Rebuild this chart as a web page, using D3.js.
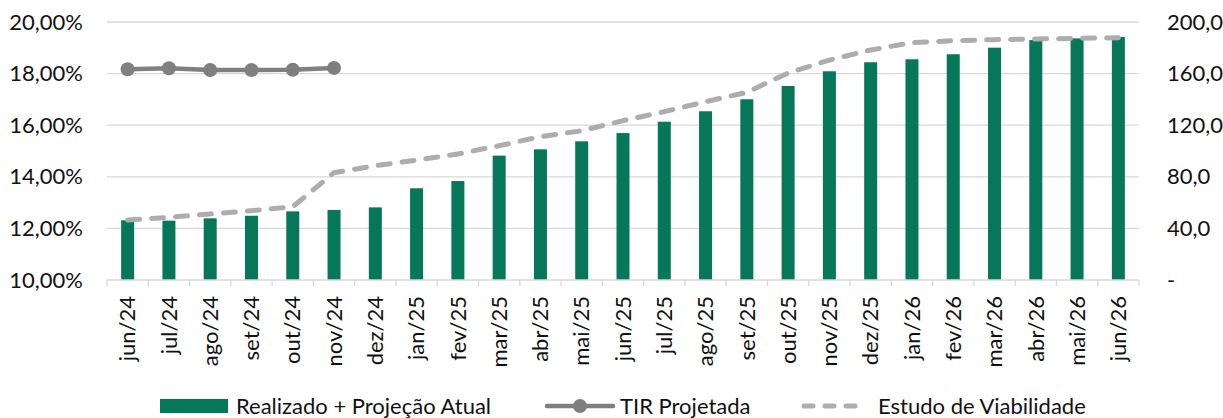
<!DOCTYPE html>
<meta charset="utf-8">
<style>
body { margin: 0; background: #fff; }
text { font-family: Lato, "Open Sans", sans-serif; fill: #111; }
</style>
<body>
<script src="https://cdn.jsdelivr.net/npm/d3@7"></script>
<script>

// categories (months)
var meses = ["jun/24","jul/24","ago/24","set/24","out/24","nov/24","dez/24",
  "jan/25","fev/25","mar/25","abr/25","mai/25","jun/25","jul/25","ago/25","set/25","out/25","nov/25","dez/25",
  "jan/26","fev/26","mar/26","abr/26","mai/26","jun/26"];

// Realizado + Projeção Atual (right axis)
var realizado = [46.3, 46.0, 47.8, 49.8, 53.2, 54.3, 56.3, 71.1, 76.7, 96.4, 101.3, 107.5, 113.9,
  122.7, 130.8, 140.1, 150.4, 161.8, 168.8, 171.1, 175.0, 180.1, 186.0, 187.3, 188.4];

// Estudo de Viabilidade (right axis)
var viabilidade = [46.5, 48.6, 51.2, 53.7, 56.8, 83.2, 88.6, 93.0, 97.7, 104.1, 111.1, 115.7, 123.5,
  130.5, 138.2, 145.5, 160.5, 170.5, 178.3, 184.0, 185.5, 186.3, 186.8, 187.3, 187.8];

// TIR Projetada (left axis, %) - only first six months
var tir = [18.17, 18.21, 18.14, 18.14, 18.15, 18.22];

var leftTicks = [10, 12, 14, 16, 18, 20];
var rightTicks = [0, 40, 80, 120, 160, 200];

var W = 1223, H = 418;
var m = {left: 107, right: 1139, top: 22, bottom: 280};
var fs = "22px";

var svg = d3.select("body").append("svg")
    .attr("width", W)
    .attr("height", H);

var x = d3.scaleBand().domain(meses).range([m.left, m.right]);
var yL = d3.scaleLinear().domain([10, 20]).range([m.bottom, m.top]);
var yR = d3.scaleLinear().domain([0, 200]).range([m.bottom, m.top]);

//gridlines
svg.append("g")
  .selectAll("line")
  .data(rightTicks.slice(1))
  .enter().append("line")
    .attr("x1", m.left).attr("x2", m.right)
    .attr("y1", d => yR(d)).attr("y2", d => yR(d))
    .attr("stroke", "#d9d9d9").attr("stroke-width", 1.3);

// left axis
var gl = svg.append("g")
    .attr("transform", "translate(" + m.left + ",0)")
    .call(d3.axisLeft(yL).tickValues(leftTicks).tickSize(0).tickPadding(24)
      .tickFormat(d => d.toFixed(2).replace(".", ",") + "%"));
gl.select(".domain").remove();
gl.selectAll("text").style("font-size", fs).style("font-family", "Lato, sans-serif").attr("fill", "#111");

// right axis
var gr = svg.append("g")
    .attr("transform", "translate(" + m.right + ",0)")
    .call(d3.axisRight(yR).tickValues(rightTicks).tickSize(0).tickPadding(28)
      .tickFormat(d => d === 0 ? "-" : d.toFixed(1).replace(".", ",")));
gr.select(".domain").remove();
gr.selectAll("text").style("font-size", fs).style("font-family", "Lato, sans-serif").attr("fill", "#111");

// bars
var bw = 13;
svg.append("g")
    .attr("fill", "#067859")
  .selectAll("rect")
  .data(realizado)
  .enter().append("rect")
    .attr("x", (d, i) => x(meses[i]) + (x.bandwidth() - bw) / 2)
    .attr("y", d => yR(d))
    .attr("width", bw)
    .attr("height", d => yR(0) - yR(d));

// bottom axis
svg.append("line")
    .attr("x1", m.left).attr("x2", m.right)
    .attr("y1", m.bottom).attr("y2", m.bottom)
    .attr("stroke", "#d9d9d9").attr("stroke-width", 1.3);

var bounds = meses.map(d => x(d)).concat([m.right]);
svg.append("g")
  .selectAll("line")
  .data(bounds)
  .enter().append("line")
    .attr("x1", d => d).attr("x2", d => d)
    .attr("y1", m.bottom).attr("y2", m.bottom + 6)
    .attr("stroke", "#d9d9d9").attr("stroke-width", 1.3);

var gx = svg.append("g")
    .attr("transform", "translate(0," + m.bottom + ")")
    .call(d3.axisBottom(x).tickSize(0).tickPadding(0));
gx.select(".domain").remove();
gx.selectAll("text")
    .style("font-size", fs).style("font-family", "Lato, sans-serif").attr("fill", "#111")
    .attr("transform", "rotate(-90)")
    .attr("text-anchor", "end")
    .attr("x", -16)
    .attr("y", 0)
    .attr("dy", "0.35em");

// dashed line
var lineR = d3.line()
    .x((d, i) => x(meses[i]) + x.bandwidth() / 2)
    .y(d => yR(d));

svg.append("path")
    .datum(viabilidade)
    .attr("d", lineR)
    .attr("fill", "none")
    .attr("stroke", "#adadad")
    .attr("stroke-width", 5)
    .attr("stroke-dasharray", "12,12")
    .attr("stroke-linecap", "round");

// TIR line
var lineL = d3.line()
    .x((d, i) => x(meses[i]) + x.bandwidth() / 2)
    .y(d => yL(d));

svg.append("path")
    .datum(tir)
    .attr("d", lineL)
    .attr("fill", "none")
    .attr("stroke", "#7f7f7f")
    .attr("stroke-width", 4.5);

svg.append("g")
    .attr("fill", "#7f7f7f")
  .selectAll("circle")
  .data(tir)
  .enter().append("circle")
    .attr("cx", (d, i) => x(meses[i]) + x.bandwidth() / 2)
    .attr("cy", d => yL(d))
    .attr("r", 7);

// legend
var lg = svg.append("g").attr("transform", "translate(0,406)");
lg.append("rect").attr("x", 160).attr("y", -7).attr("width", 68).attr("height", 14).attr("fill", "#067859");
lg.append("text").attr("x", 236).attr("dy", "0.35em").style("font-size", fs).text("Realizado + Projeção Atual");

lg.append("line").attr("x1", 547).attr("x2", 613).attr("stroke", "#7f7f7f").attr("stroke-width", 4.5).attr("stroke-linecap", "round");
lg.append("circle").attr("cx", 580).attr("r", 7).attr("fill", "#7f7f7f");
lg.append("text").attr("x", 620).attr("dy", "0.35em").style("font-size", fs).text("TIR Projetada");

lg.append("line").attr("x1", 804).attr("x2", 866).attr("stroke", "#adadad").attr("stroke-width", 5)
    .attr("stroke-dasharray", "9,12").attr("stroke-linecap", "round");
lg.append("text").attr("x", 878).attr("dy", "0.35em").style("font-size", fs).text("Estudo de Viabilidade");

</script>
</body>
</html>
